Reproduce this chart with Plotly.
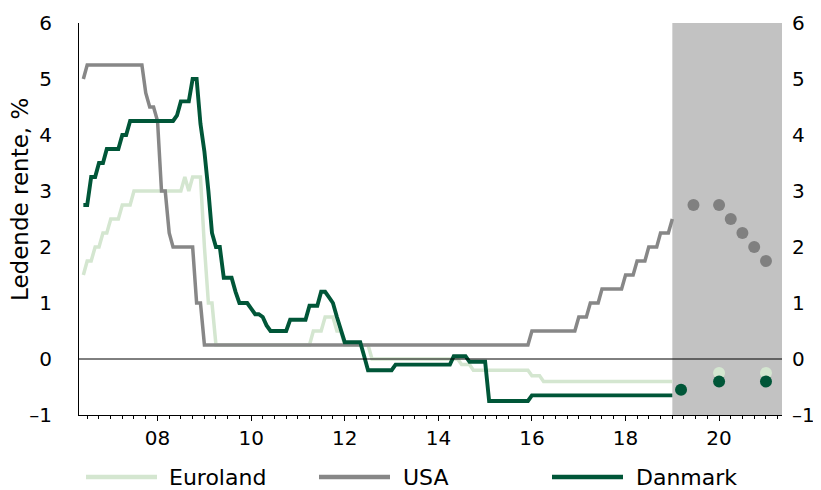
import pandas as pd
import plotly.graph_objects as go

# ---------------- data (monthly, first of month, Jun 2006 - Jan 2019) ----------------
start_month = "2006-06-01"
n_months = 152

usa = [
    5.00, 5.25, 5.25, 5.25, 5.25, 5.25, 5.25,
    5.25, 5.25, 5.25, 5.25, 5.25, 5.25, 5.25, 5.25, 5.25, 4.75, 4.50, 4.50,
    4.25, 3.00, 3.00, 2.25, 2.00, 2.00, 2.00, 2.00, 2.00, 2.00, 1.00, 1.00,
    0.25, 0.25, 0.25, 0.25, 0.25, 0.25, 0.25, 0.25, 0.25, 0.25, 0.25, 0.25,
    0.25, 0.25, 0.25, 0.25, 0.25, 0.25, 0.25, 0.25, 0.25, 0.25, 0.25, 0.25,
    0.25, 0.25, 0.25, 0.25, 0.25, 0.25, 0.25, 0.25, 0.25, 0.25, 0.25, 0.25,
    0.25, 0.25, 0.25, 0.25, 0.25, 0.25, 0.25, 0.25, 0.25, 0.25, 0.25, 0.25,
    0.25, 0.25, 0.25, 0.25, 0.25, 0.25, 0.25, 0.25, 0.25, 0.25, 0.25, 0.25,
    0.25, 0.25, 0.25, 0.25, 0.25, 0.25, 0.25, 0.25, 0.25, 0.25, 0.25, 0.25,
    0.25, 0.25, 0.25, 0.25, 0.25, 0.25, 0.25, 0.25, 0.25, 0.25, 0.25, 0.25,
    0.50, 0.50, 0.50, 0.50, 0.50, 0.50, 0.50, 0.50, 0.50, 0.50, 0.50, 0.50,
    0.75, 0.75, 0.75, 1.00, 1.00, 1.00, 1.25, 1.25, 1.25, 1.25, 1.25, 1.25,
    1.50, 1.50, 1.50, 1.75, 1.75, 1.75, 2.00, 2.00, 2.00, 2.25, 2.25, 2.25,
    2.50,
]

euroland = [
    1.50, 1.75, 1.75, 2.00, 2.00, 2.25, 2.25,
    2.50, 2.50, 2.50, 2.75, 2.75, 2.75, 3.00, 3.00, 3.00, 3.00, 3.00, 3.00,
    3.00, 3.00, 3.00, 3.00, 3.00, 3.00, 3.00, 3.25, 3.00, 3.25, 3.25, 3.25,
    2.00, 1.00, 1.00, 0.25, 0.25, 0.25, 0.25, 0.25, 0.25, 0.25, 0.25, 0.25,
    0.25, 0.25, 0.25, 0.25, 0.25, 0.25, 0.25, 0.25, 0.25, 0.25, 0.25, 0.25,
    0.25, 0.25, 0.25, 0.25, 0.50, 0.50, 0.50, 0.75, 0.75, 0.75, 0.50, 0.50,
    0.25, 0.25, 0.25, 0.25, 0.25, 0.25, 0.25, 0.00, 0.00, 0.00, 0.00, 0.00,
    0.00, 0.00, 0.00, 0.00, 0.00, 0.00, 0.00, 0.00, 0.00, 0.00, 0.00, 0.00,
    0.00, 0.00, 0.00, 0.00, 0.00, 0.00, -0.10, -0.10, -0.10, -0.20, -0.20, -0.20,
    -0.20, -0.20, -0.20, -0.20, -0.20, -0.20, -0.20, -0.20, -0.20, -0.20, -0.20, -0.20,
    -0.30, -0.30, -0.30, -0.40, -0.40, -0.40, -0.40, -0.40, -0.40, -0.40, -0.40, -0.40,
    -0.40, -0.40, -0.40, -0.40, -0.40, -0.40, -0.40, -0.40, -0.40, -0.40, -0.40, -0.40,
    -0.40, -0.40, -0.40, -0.40, -0.40, -0.40, -0.40, -0.40, -0.40, -0.40, -0.40, -0.40,
    -0.40,
]

danmark = [
    2.75, 2.75, 3.25, 3.25, 3.50, 3.50, 3.75,
    3.75, 3.75, 3.75, 4.00, 4.00, 4.25, 4.25, 4.25, 4.25, 4.25, 4.25, 4.25,
    4.25, 4.25, 4.25, 4.25, 4.25, 4.35, 4.60, 4.60, 4.60, 5.00, 5.00, 4.20,
    3.70, 3.00, 2.25, 2.00, 2.00, 1.45, 1.45, 1.45, 1.20, 1.00, 1.00, 1.00,
    0.90, 0.80, 0.80, 0.75, 0.60, 0.50, 0.50, 0.50, 0.50, 0.50, 0.70, 0.70,
    0.70, 0.70, 0.70, 0.95, 0.95, 0.95, 1.20, 1.20, 1.10, 1.00, 0.75, 0.55,
    0.30, 0.30, 0.30, 0.30, 0.30, 0.05, -0.20, -0.20, -0.20, -0.20, -0.20, -0.20,
    -0.20, -0.10, -0.10, -0.10, -0.10, -0.10, -0.10, -0.10, -0.10, -0.10, -0.10, -0.10,
    -0.10, -0.10, -0.10, -0.10, 0.05, 0.05, 0.05, 0.05, -0.05, -0.05, -0.05, -0.05,
    -0.05, -0.75, -0.75, -0.75, -0.75, -0.75, -0.75, -0.75, -0.75, -0.75, -0.75, -0.75,
    -0.65, -0.65, -0.65, -0.65, -0.65, -0.65, -0.65, -0.65, -0.65, -0.65, -0.65, -0.65,
    -0.65, -0.65, -0.65, -0.65, -0.65, -0.65, -0.65, -0.65, -0.65, -0.65, -0.65, -0.65,
    -0.65, -0.65, -0.65, -0.65, -0.65, -0.65, -0.65, -0.65, -0.65, -0.65, -0.65, -0.65,
    -0.65,
]

# forecasts (dots)
usa_fc_dates = ["2019-06-15", "2020-01-01", "2020-04-01", "2020-07-01", "2020-10-01", "2021-01-01"]
usa_fc = [2.75, 2.75, 2.50, 2.25, 2.00, 1.75]
euro_fc_dates = ["2020-01-01", "2021-01-01"]
euro_fc = [-0.25, -0.25]
dk_fc_dates = ["2019-03-10", "2020-01-01", "2021-01-01"]
dk_fc = [-0.55, -0.40, -0.40]

series_names = ["Euroland", "USA", "Danmark"]
y_title = "Ledende rente, %"
y_ticks = [-1, 0, 1, 2, 3, 4, 5, 6]
y_ticktext = ["\u20131", "0", "1", "2", "3", "4", "5", "6"]

# ---------------- style ----------------
C_EURO = "#d4e6d0"
C_USA = "#878787"
C_DK = "#005638"
C_SHADE = "#c2c2c2"
FONT = "DejaVu Sans"
X_RANGE = ["2006-04-28", "2021-05-06"]
FORECAST_START = "2019-01-01"

# page has an 8px body margin -> figure is drawn 8px in from the top-left
PAGE_OFF = 8
FIG_W, FIG_H = 821 - PAGE_OFF, 490 - PAGE_OFF

dates = pd.date_range(start_month, periods=n_months, freq="MS")

fig = go.Figure()
fig.add_trace(go.Scatter(x=dates, y=euroland, mode="lines", name=series_names[0],
                         line=dict(color=C_EURO, width=3.5), showlegend=False))
fig.add_trace(go.Scatter(x=dates, y=usa, mode="lines", name=series_names[1],
                         line=dict(color=C_USA, width=3.5), showlegend=False))
fig.add_trace(go.Scatter(x=dates, y=danmark, mode="lines", name=series_names[2],
                         line=dict(color=C_DK, width=3.9), showlegend=False))
fig.add_trace(go.Scatter(x=euro_fc_dates, y=euro_fc, mode="markers", name=series_names[0] + " prognose",
                         marker=dict(color=C_EURO, size=12), showlegend=False))
fig.add_trace(go.Scatter(x=dk_fc_dates, y=dk_fc, mode="markers", name=series_names[2] + " prognose",
                         marker=dict(color=C_DK, size=12), showlegend=False))
fig.add_trace(go.Scatter(x=usa_fc_dates, y=usa_fc, mode="markers", name=series_names[1] + " prognose",
                         marker=dict(color="#808080", size=12), showlegend=False, yaxis="y2"))

# shaded forecast area
fig.add_shape(type="rect", xref="x", yref="paper", x0=FORECAST_START, x1=X_RANGE[1],
              y0=0, y1=1, fillcolor=C_SHADE, line=dict(width=0), layer="below")
# zero line
fig.add_shape(type="line", xref="paper", yref="y", x0=0, x1=1, y0=0, y1=0,
              line=dict(color="black", width=1), layer="above")

# custom legend (positions in page pixels, converted to paper coords)
plot_left, plot_w = 79, 703
plot_bottom, plot_h = 415, 392
legend_y_px = 477
ly = (plot_bottom - legend_y_px) / plot_h
legend_items = [(86, 157, 167, C_EURO), (319, 390, 401, C_USA), (552, 623, 634, C_DK)]
for name, (lx0, lx1, tx, col) in zip(series_names, legend_items):
    fig.add_shape(type="line", xref="paper", yref="paper",
                  x0=(lx0 - plot_left) / plot_w, x1=(lx1 - plot_left) / plot_w,
                  y0=ly, y1=ly, line=dict(color=col, width=4.5))
    fig.add_annotation(xref="paper", yref="paper", x=(tx - plot_left) / plot_w, y=ly,
                       text=name, showarrow=False, xanchor="left", yanchor="middle",
                       font=dict(family=FONT, size=22, color="black"))

# y title
fig.add_annotation(xref="paper", yref="paper", x=(20 - plot_left) / plot_w,
                   y=(plot_bottom - 200) / plot_h, text=y_title, textangle=-90,
                   showarrow=False, xanchor="center", yanchor="middle",
                   font=dict(family=FONT, size=23, color="black"))

fig.update_layout(
    width=FIG_W, height=FIG_H,
    margin=dict(l=plot_left - PAGE_OFF, r=FIG_W - (plot_left - PAGE_OFF) - plot_w,
                t=plot_bottom - plot_h - PAGE_OFF, b=FIG_H - (plot_bottom - PAGE_OFF),
                autoexpand=False),
    paper_bgcolor="white", plot_bgcolor="white",
    font=dict(family=FONT, size=20, color="black"),
    showlegend=False,
    xaxis=dict(
        type="date", range=X_RANGE, automargin=False,
        tick0="2008-01-01", dtick="M24", tickformat="%y",
        showgrid=False, zeroline=False,
        showline=True, linecolor="black", linewidth=1,
        ticks="outside", ticklen=5, tickcolor="black", tickwidth=1,
        tickfont=dict(family=FONT, size=20, color="black"),
        ticklabelstandoff=0,
        minor=dict(dtick="M3", tick0="2006-01-01", ticks="outside", ticklen=3,
                   tickcolor="black", tickwidth=1, showgrid=False),
    ),
    yaxis=dict(
        range=[-1, 6], tickvals=y_ticks, ticktext=y_ticktext, automargin=False,
        showgrid=False, zeroline=False,
        showline=True, linecolor="black", linewidth=1,
        ticks="", ticklabelstandoff=22,
        tickfont=dict(family=FONT, size=20, color="black"),
    ),
    yaxis2=dict(
        range=[-1, 6], tickvals=y_ticks, ticktext=y_ticktext, automargin=False,
        overlaying="y", side="right",
        showgrid=False, zeroline=False, showline=False,
        ticks="", ticklabelstandoff=9,
        tickfont=dict(family=FONT, size=20, color="black"),
    ),
)

fig.write_html("out.html")
